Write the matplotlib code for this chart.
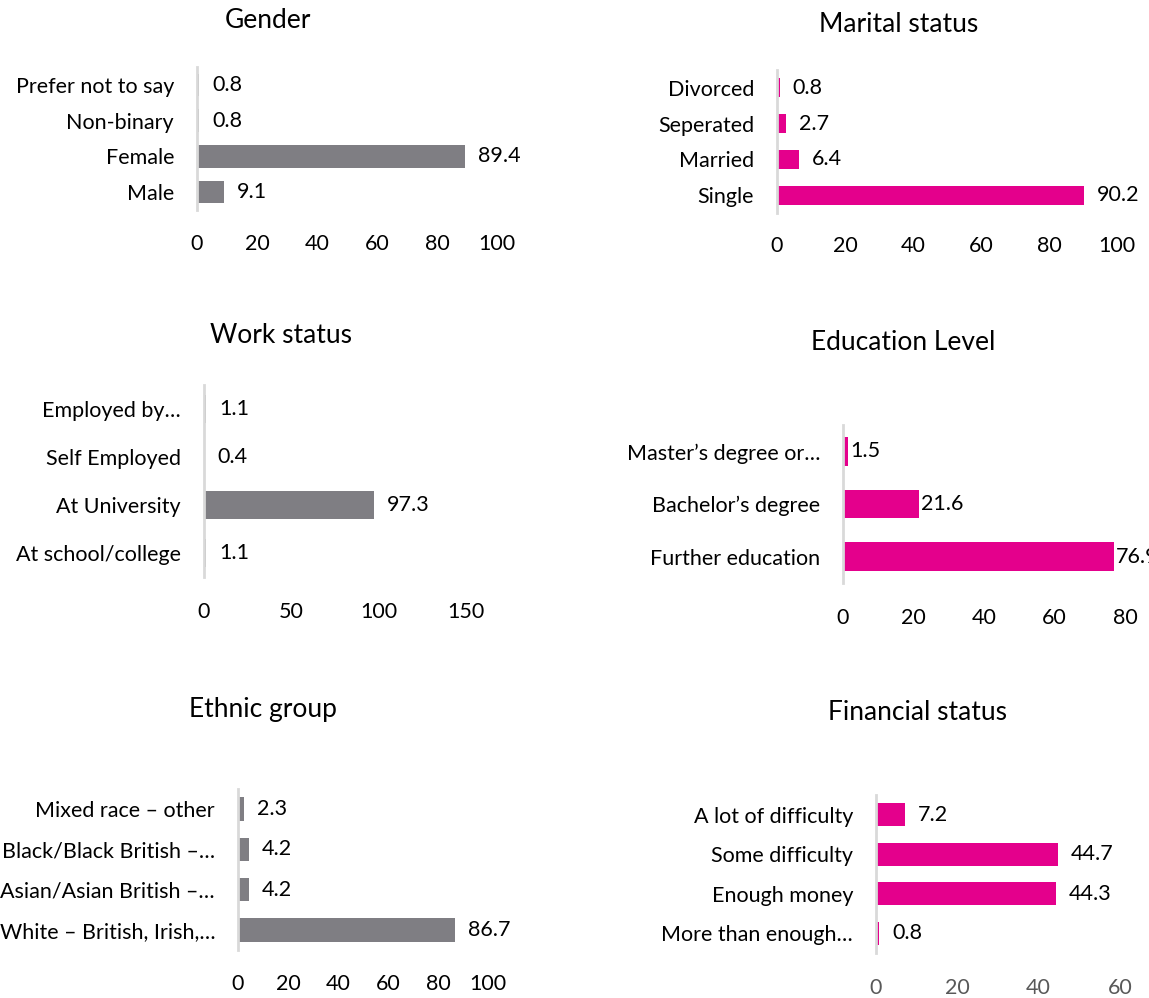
import matplotlib
matplotlib.use("Agg")
import matplotlib.pyplot as plt

plt.rcParams["font.family"] = ["Lato", "DejaVu Sans"]

# ---- dados (percentagens) ----
gender_labels = ["Male", "Female", "Non-binary", "Prefer not to say"]
gender_values = [9.1, 89.4, 0.8, 0.8]

marital_labels = ["Single", "Married", "Seperated", "Divorced"]
marital_values = [90.2, 6.4, 2.7, 0.8]

work_labels = ["At school/college", "At University", "Self Employed", "Employed by…"]
work_values = [1.1, 97.3, 0.4, 1.1]

edu_labels = ["Further education", "Bachelor’s degree", "Master’s degree or…"]
edu_values = [76.9, 21.6, 1.5]

ethnic_labels = ["White – British, Irish,…", "Asian/Asian British –…",
                 "Black/Black British –…", "Mixed race – other"]
ethnic_values = [86.7, 4.2, 4.2, 2.3]

finance_labels = ["More than enough…", "Enough money", "Some difficulty",
                  "A lot of difficulty"]
finance_values = [0.8, 44.3, 44.7, 7.2]

# ---- layout em pixels ----
W, H = 1149, 998
DPI = 100
PT = 72 / DPI            # pontos por pixel

GRAY = "#7f7e83"
MAGENTA = "#e4008c"
AXIS_LINE = "#d9d9d9"
FS = 15.5
FS_TITLE = 19

# (título, labels, valores, cor, x0, x_fim, xmax, ticks, y_topo, y_base,
#  altura da barra, posição do título, y dos ticks, cor dos ticks, folga do rótulo)
paineis = [
    ("Gender", gender_labels, gender_values, GRAY,
     197, 497, 100, [0, 20, 40, 60, 80, 100], 67, 210, 0.63, (268, 21), 243, "black", 13),
    ("Marital status", marital_labels, marital_values, MAGENTA,
     777, 1117, 100, [0, 20, 40, 60, 80, 100], 70, 213, 0.53, (899, 24), 245, "black", 13),
    ("Work status", work_labels, work_values, GRAY,
     204, 466, 150, [0, 50, 100, 150], 385, 577, 0.60, (281, 335), 610, "black", 13),
    ("Education Level", edu_labels, edu_values, MAGENTA,
     843, 1125, 80, [0, 20, 40, 60, 80], 425, 583, 0.55, (903, 342), 617, "black", 2),
    ("Ethnic group", ethnic_labels, ethnic_values, GRAY,
     238, 488, 100, [0, 20, 40, 60, 80, 100], 789, 950, 0.58, (263, 710), 982, "black", 13),
    ("Financial status", finance_labels, finance_values, MAGENTA,
     876, 1120, 60, [0, 20, 40, 60], 795, 953, 0.58, (917, 713), 987, "#595959", 13),
]

fig = plt.figure(figsize=(W / DPI, H / DPI), dpi=DPI)

for (titulo, labels, valores, cor, x0, x1, xmax, ticks, yt, yb, bh,
     tpos, ytick, tick_cor, folga) in paineis:
    ax = fig.add_axes([x0 / W, 1 - yb / H, (x1 - x0) / W, (yb - yt) / H])
    pos = range(len(labels))
    ax.barh(pos, valores, height=bh, color=cor)
    ax.set_xlim(0, xmax)
    ax.set_ylim(-0.5, len(labels) - 0.5)
    ax.set_xticks(ticks)
    ax.set_yticks(list(pos))
    ax.set_yticklabels(labels)

    for s in ("top", "right", "bottom"):
        ax.spines[s].set_visible(False)
    ax.spines["left"].set_color(AXIS_LINE)
    ax.spines["left"].set_linewidth(2)

    ax.tick_params(axis="y", length=0, pad=23 * PT, labelsize=FS)
    ax.tick_params(axis="x", length=0, pad=(ytick - yb - 8.5) * PT,
                   labelsize=FS, labelcolor=tick_cor)

    for p, v in zip(pos, valores):
        ax.annotate(f"{v:.1f}", (v, p), xytext=(folga * PT, 0),
                    textcoords="offset points", ha="left", va="center",
                    fontsize=FS, annotation_clip=False)

    fig.text(tpos[0] / W, 1 - tpos[1] / H, titulo, ha="center", va="center",
             fontsize=FS_TITLE)

fig.savefig("out.png", dpi=DPI)
